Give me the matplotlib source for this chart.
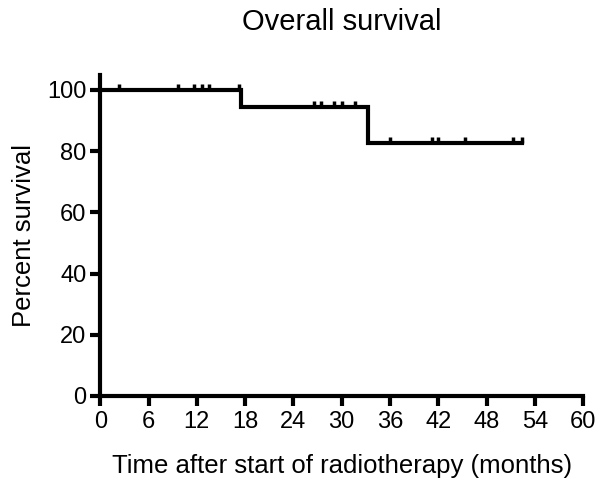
import matplotlib.pyplot as plt
from matplotlib.path import Path

plt.rcParams['font.family'] = ['Liberation Sans', 'DejaVu Sans']

# Kaplan-Meier step values
step_times = [0, 17.5, 33.3, 52.4]
step_surv = [100, 94.4, 82.6, 82.6]

# censored observations (time, survival at that time)
cens_times = [2.3, 9.7, 11.7, 12.7, 13.5, 17.3,
              26.6, 27.4, 29.0, 30.0, 31.7,
              36.0, 41.2, 42.0, 45.3, 51.3, 52.4]
cens_surv = [100] * 6 + [94.4] * 5 + [82.6] * 6

xticks = [0, 6, 12, 18, 24, 30, 36, 42, 48, 54, 60]
yticks = [0, 20, 40, 60, 80, 100]

fig = plt.figure(figsize=(6, 4.98), dpi=100)
ax = fig.add_axes([0.167, 0.205, 0.805, 0.645])

ax.plot(step_times, step_surv, drawstyle='steps-post', color='black', lw=3, solid_joinstyle='miter')

# censor ticks point upward from the curve
up_tick = Path([(0, 0), (0, 1)])
ax.plot(cens_times, cens_surv, ls='none', marker=up_tick, markersize=9,
        mew=2.5, color='black')

ax.set_xlim(0, 60)
ax.set_ylim(0, 105)
ax.set_xticks(xticks)
ax.set_yticks(yticks)

for s in ['top', 'right']:
    ax.spines[s].set_visible(False)
for s in ['left', 'bottom']:
    ax.spines[s].set_linewidth(3)
ax.tick_params(width=3, length=7, labelsize=17, pad=2)
ax.tick_params(axis='x', pad=4)
ax.tick_params(axis='y', pad=3)

ax.set_title('Overall survival', fontsize=21, pad=32)
ax.set_xlabel('Time after start of radiotherapy (months)', fontsize=18.5, labelpad=15)
ax.set_ylabel('Percent survival', fontsize=18.5, labelpad=8)

fig.savefig('out.png', dpi=100)
